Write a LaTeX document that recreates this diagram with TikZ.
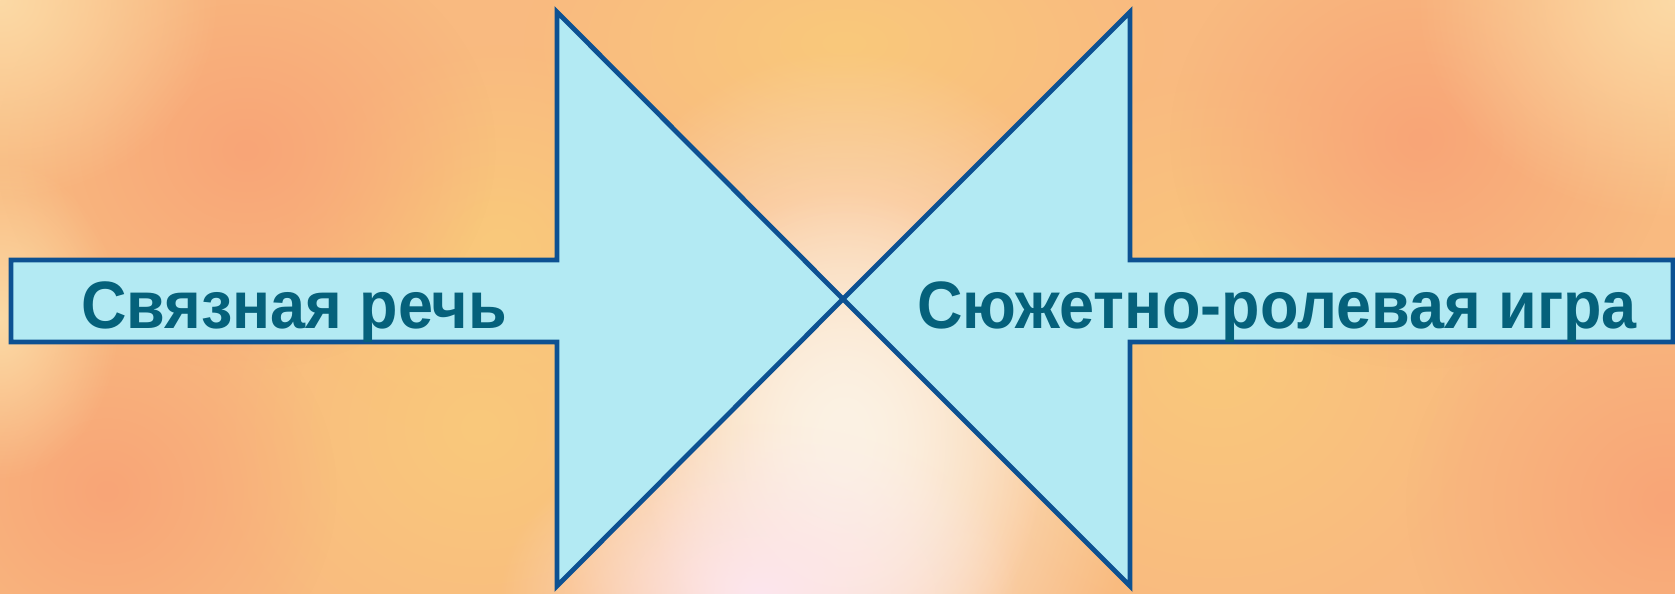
\documentclass[tikz,border=0pt]{standalone}
\usepackage{fontspec}
\setmainfont[FakeStretch=0.94]{Liberation Sans}
\usetikzlibrary{fadings}
\definecolor{arrowfill}{HTML}{B3EAF3}
\definecolor{arrowline}{HTML}{0D5192}
\definecolor{labeltext}{HTML}{05617B}
\definecolor{bgbase}{HTML}{F9BA80}
\definecolor{bgsalmon}{HTML}{F8A577}
\definecolor{bgyellow}{HTML}{FAC97B}
\definecolor{bgglow}{HTML}{FCF2E4}
\definecolor{bgpink}{HTML}{FDE6EE}
\definecolor{bgcorner}{HTML}{FCDAA6}
\tikzfading[name=softblob, inner color=transparent!0, outer color=transparent!100]

\begin{document}
\begin{tikzpicture}[x=1pt,y=-1pt,
  arrowshape/.style={draw=arrowline,fill=arrowfill,line width=4.8pt,line join=miter},
  arrowtext/.style={font=\bfseries\fontsize{67}{80}\selectfont,text=labeltext,inner sep=0pt,anchor=base},
  blob/.style={fill=#1,path fading=softblob}]
\useasboundingbox (0,0) rectangle (1675,594);
% background
\begin{scope}
\clip (0,0) rectangle (1675,594);
\fill[bgbase] (0,0) rectangle (1675,594);
\fill[blob=bgyellow] (844,43) ellipse (320 and 170);
\fill[blob=bgyellow] (480,427) ellipse (280 and 260);
\fill[blob=bgyellow] (500,245) ellipse (220 and 200);
\fill[blob=bgyellow] (1218,352) ellipse (280 and 280);
\fill[blob=bgsalmon] (246,150) ellipse (250 and 220);
\fill[blob=bgsalmon] (107,491) ellipse (230 and 220);
\fill[blob=bgsalmon] (1420,139) ellipse (250 and 230);
\fill[blob=bgsalmon] (1666,502) ellipse (260 and 240);
\fill[blob=bgcorner] (0,0) ellipse (220 and 200);
\fill[blob=bgcorner] (1675,0) ellipse (260 and 220);
\fill[blob=bgcorner] (0,320) ellipse (120 and 160);
\fill[blob=bgglow] (844,430) ellipse (300 and 380);
\fill[blob=bgglow] (844,450) ellipse (200 and 260);
\fill[blob=bgpink] (760,594) ellipse (260 and 170);
\end{scope}

% arrows
\draw[arrowshape] (11,260) -- (557,260) -- (557,12) -- (843,299)
  -- (557,586) -- (557,342) -- (11,342) -- cycle;
\draw[arrowshape] (1673,260) -- (1130,260) -- (1130,12) -- (843,299)
  -- (1130,586) -- (1130,342) -- (1673,342) -- cycle;

\node[arrowtext] (speech) at (294,328) {Связная речь};
\node[arrowtext] (game) at (1277,328) {Сюжетно-ролевая игра};
\end{tikzpicture}
\end{document}
